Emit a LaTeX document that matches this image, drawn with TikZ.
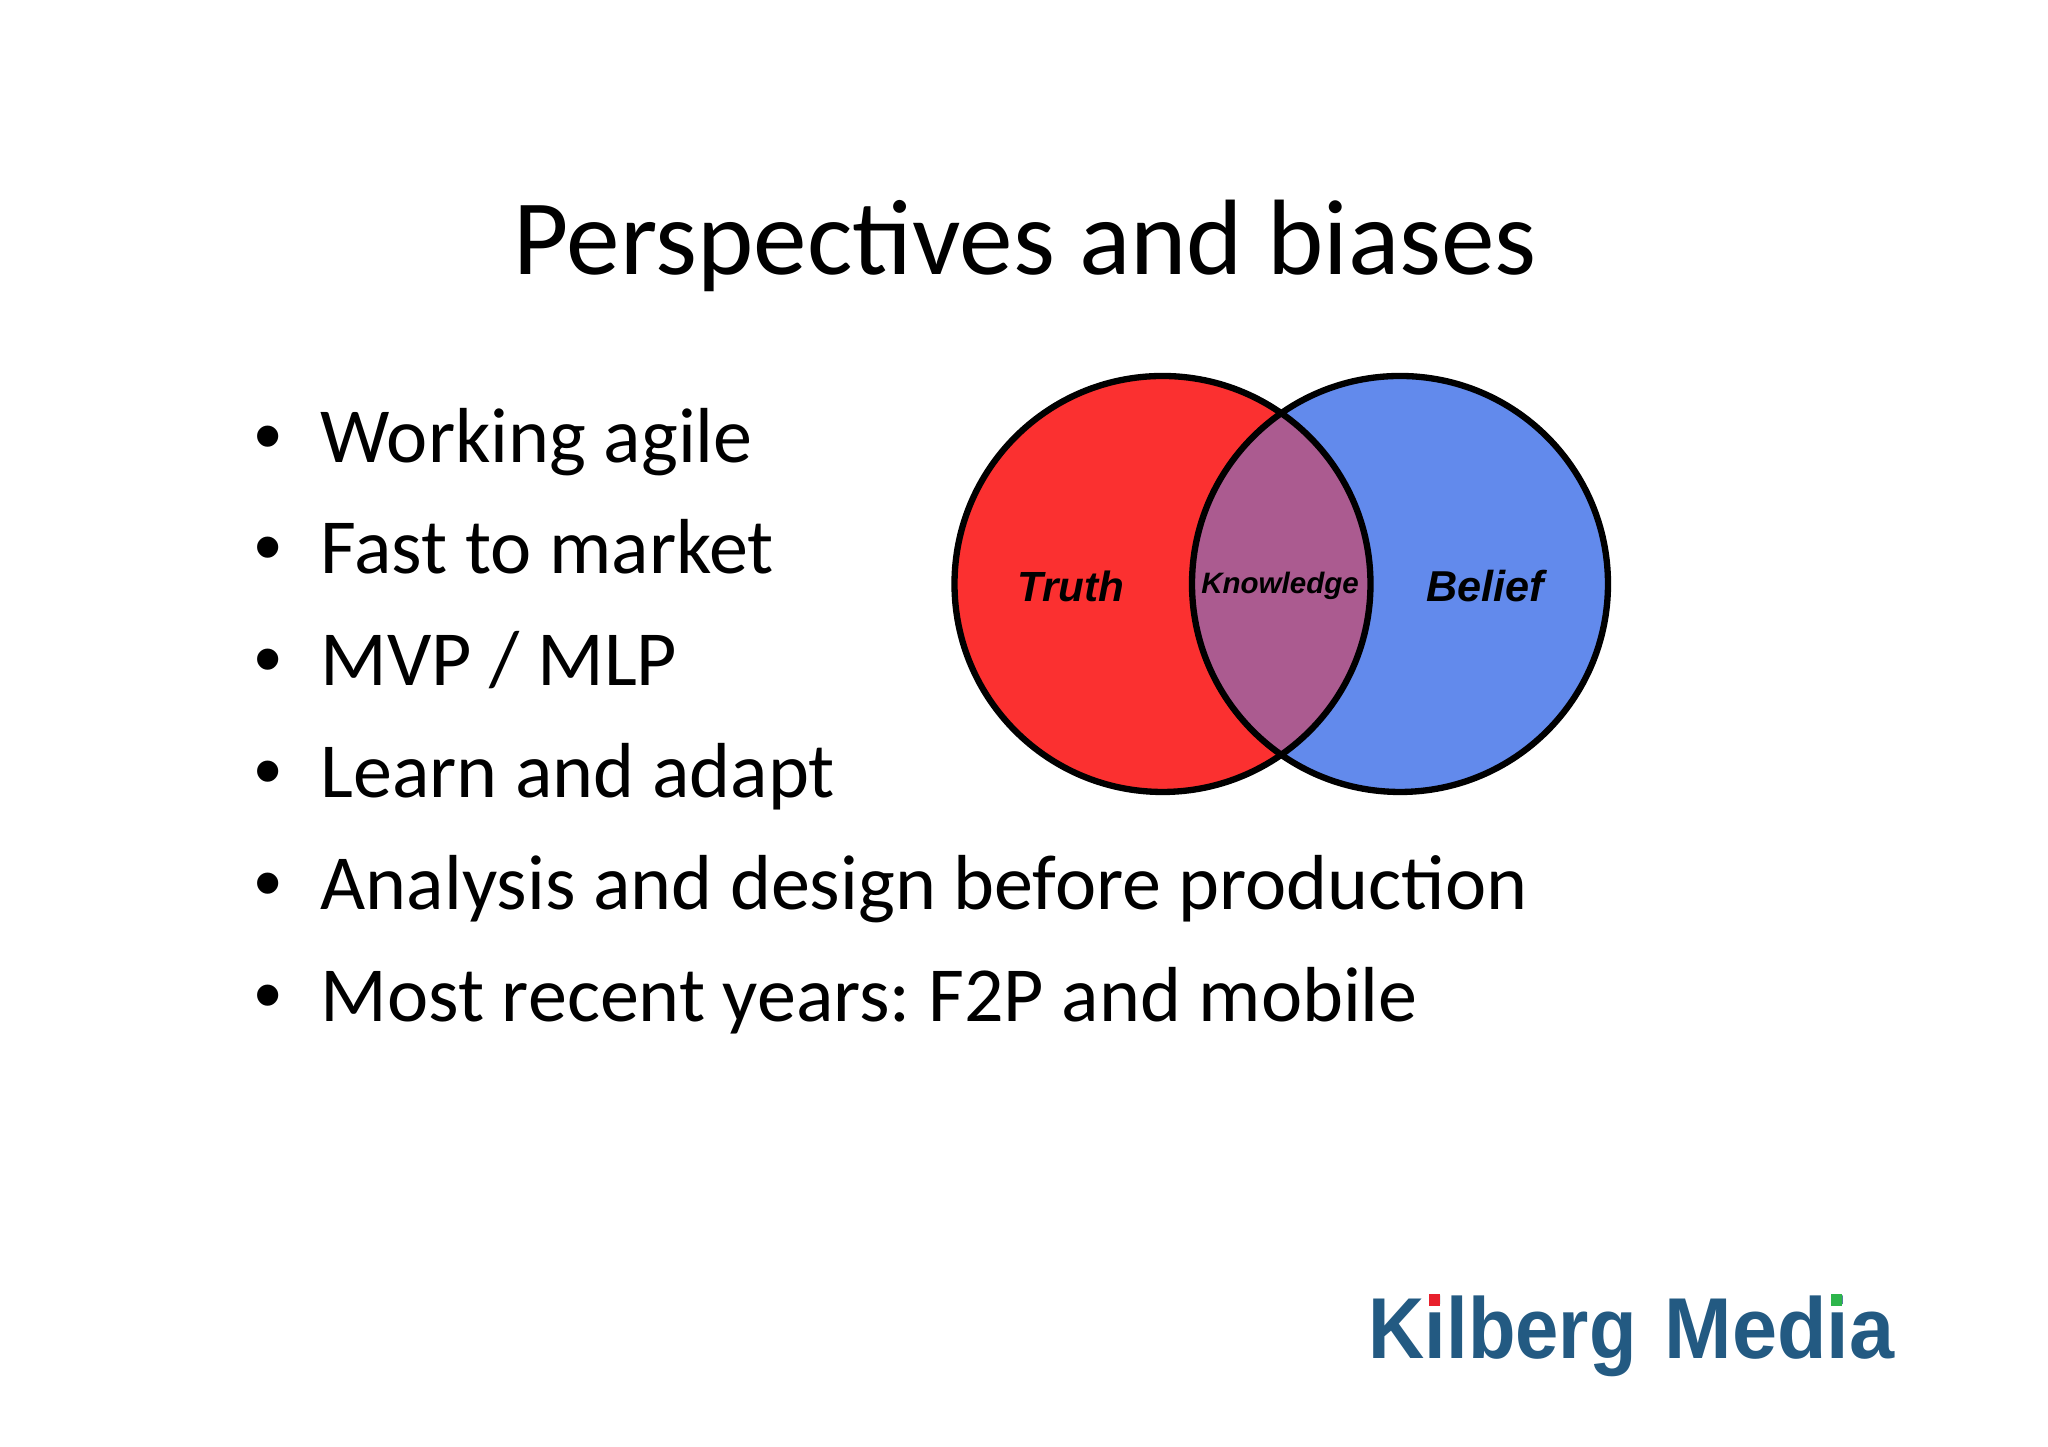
\documentclass[tikz,border=0pt]{standalone}
\usepackage{fontspec}
\setmainfont{Carlito}
\newfontfamily\vennfont{Liberation Sans}
\newfontfamily\kilbergfont[FakeStretch=0.90]{Liberation Sans}
\newfontfamily\mediafont[FakeStretch=0.937]{Liberation Sans}
\definecolor{truthred}{HTML}{FB3030}
\definecolor{beliefblue}{HTML}{628AEC}
\definecolor{overlapmauve}{HTML}{AB5B90}
\definecolor{logoblue}{HTML}{235A82}
\definecolor{logored}{HTML}{E8202C}
\definecolor{logogreen}{HTML}{2DB54B}
\tikzset{
  slidetitle/.style={anchor=base,inner sep=0pt,font=\fontsize{30.5}{36}\selectfont},
  bullettext/.style={anchor=base west,inner sep=0pt,font=\frenchspacing\fontsize{22.2}{26}\selectfont},
  bulletdot/.style={anchor=base,inner sep=0pt,font=\vennfont\fontsize{22.2}{26}\selectfont},
  vennlabel/.style={inner sep=0pt,font=\vennfont\bfseries\itshape\fontsize{#1}{#1}\selectfont},
  vennline/.style={line width=1.8pt},
  logotext/.style={anchor=base west,inner sep=0pt,text=logoblue,font=#1\bfseries\fontsize{24.6}{30}\selectfont},
}
\begin{document}
\begin{tikzpicture}

\useasboundingbox (0,0) rectangle (20.48,14.47);

\node[slidetitle] (title) at (10.25,11.72) {Perspectives and biases};

\node[bulletdot] (dot1) at (2.68,9.845) {•};
\node[bullettext] (line1) at (3.2,9.845) {Working agile};
\node[bulletdot] (dot2) at (2.68,8.735) {•};
\node[bullettext] (line2) at (3.2,8.735) {Fast to market};
\node[bulletdot] (dot3) at (2.68,7.615) {•};
\node[bullettext] (line3) at (3.2,7.615) {MVP / MLP};
\node[bulletdot] (dot4) at (2.68,6.495) {•};
\node[bullettext] (line4) at (3.2,6.495) {Learn and adapt};
\node[bulletdot] (dot5) at (2.68,5.375) {•};
\node[bullettext] (line5) at (3.2,5.375) {Analysis and design before production};
\node[bulletdot] (dot6) at (2.68,4.255) {•};
\node[bullettext] (line6) at (3.2,4.255) {Most recent years: F2P and mobile};

\fill[truthred] (11.625,8.63) circle (2.08);
\fill[beliefblue] (14,8.63) circle (2.08);
\begin{scope}
\clip (11.625,8.63) circle (2.08);
\fill[overlapmauve] (14,8.63) circle (2.08);
\end{scope}
\draw[vennline] (11.625,8.63) circle (2.08);
\draw[vennline] (14,8.63) circle (2.08);

\node[vennlabel=12] (truth) at (10.71,8.61) {Truth};
\node[vennlabel=8.4] (knowledge) at (12.8,8.61) {Knowledge};
\node[vennlabel=12.3] (belief) at (14.85,8.61) {Belief};

\node[logotext=\kilbergfont] (kilberg) at (13.68,0.88) {Kilberg};
\node[logotext=\mediafont] (media) at (16.64,0.88) {Media};
\fill[logored] (14.29,1.41) rectangle (14.4,1.53);
\fill[logogreen] (18.305,1.41) rectangle (18.415,1.53);

\end{tikzpicture}
\end{document}
